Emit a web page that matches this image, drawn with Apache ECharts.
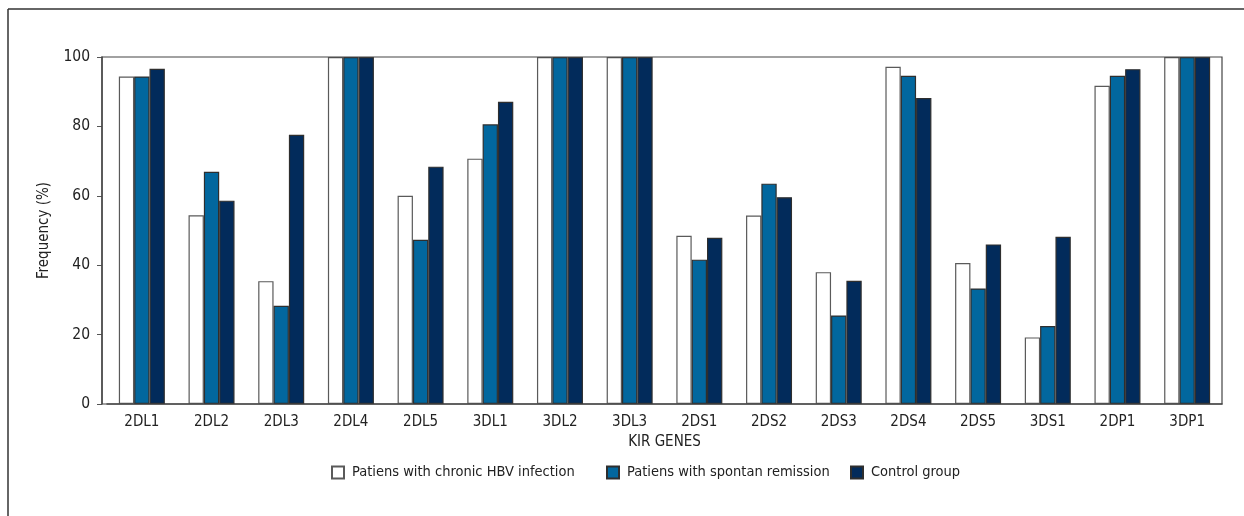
<!DOCTYPE html>
<html>
<head>
<meta charset="utf-8">
<script src="https://cdn.jsdelivr.net/npm/echarts@6/dist/echarts.min.js"></script>
<style>html,body{margin:0;padding:0;background:#fff;}#chart{width:1244px;height:516px;}</style>
</head>
<body>
<div id="chart"></div>
<script>
const categories = ['2DL1','2DL2','2DL3','2DL4','2DL5','3DL1','3DL2','3DL3','2DS1','2DS2','2DS3','2DS4','2DS5','3DS1','2DP1','3DP1'];
const seriesNames = ['Patiens with chronic HBV infection','Patiens with spontan remission','Control group'];
const chronicHBV = [94.4, 54.4, 35.4, 100, 60.0, 70.7, 100, 100, 48.5, 54.3, 38.0, 97.2, 40.6, 19.2, 91.7, 100];
const spontanRemission = [94.4, 66.9, 28.3, 100, 47.3, 80.6, 100, 100, 41.6, 63.5, 25.5, 94.6, 33.3, 22.5, 94.6, 100];
const controlGroup = [96.6, 58.6, 77.6, 100, 68.4, 87.1, 100, 100, 47.9, 59.6, 35.5, 88.2, 46.0, 48.2, 96.5, 100];
const yTicks = [0, 20, 40, 60, 80, 100];

const FONT = "'Liberation Sans Narrow', 'DejaVu Sans Condensed', sans-serif";
const colors = ['#ffffff', '#02679e', '#022b5b'];
const borders = ['#5a5a5a', '#2e2e2e', '#2e2e2e'];
const dataSets = [chronicHBV, spontanRemission, controlGroup];
const legendLefts = [331, 606, 850];

const chart = echarts.init(document.getElementById('chart'), null, {renderer: 'canvas'});
chart.setOption({
  animation: false,
  backgroundColor: '#fff',
  textStyle: {fontFamily: FONT},
  graphic: [
    {type: 'line', shape: {x1: 8, y1: 9, x2: 1244, y2: 9}, style: {stroke: '#333', lineWidth: 1.5}},
    {type: 'line', shape: {x1: 8, y1: 9, x2: 8, y2: 516}, style: {stroke: '#333', lineWidth: 1.5}},
    {type: 'rect', z: 10, shape: {x: 102, y: 57, width: 1120, height: 347}, style: {fill: null, stroke: '#444', lineWidth: 1.2}}
  ],
  grid: {left: 107, right: 22, top: 57, bottom: 112, show: false},
  legend: seriesNames.map((n, i) => ({
    data: [n],
    top: 465,
    left: legendLefts[i],
    padding: 0,
    itemWidth: 12,
    itemHeight: 12,
    itemGap: 0,
    icon: 'rect',
    textStyle: {fontFamily: FONT, fontSize: 14.5, color: '#222', padding: [0, 0, 0, 3]}
  })),
  xAxis: {
    type: 'category',
    data: categories,
    name: 'KIR GENES',
    nameLocation: 'middle',
    nameGap: 31,
    nameTextStyle: {fontFamily: FONT, fontSize: 15, color: '#222'},
    axisLine: {lineStyle: {color: '#555', width: 1.5}},
    axisTick: {show: false},
    axisLabel: {fontFamily: FONT, fontSize: 15, color: '#222', margin: 11},
    splitLine: {show: false}
  },
  yAxis: {
    type: 'value',
    min: 0, max: 100, interval: 20,
    offset: 5,
    name: 'Frequency (%)',
    nameLocation: 'middle',
    nameGap: 50,
    nameTextStyle: {fontFamily: FONT, fontSize: 15, color: '#222'},
    axisLine: {show: true, lineStyle: {color: '#555', width: 1.5}},
    axisTick: {show: true, length: 5, lineStyle: {color: '#555'}},
    axisLabel: {fontFamily: FONT, fontSize: 15.5, color: '#222', margin: 12,
      formatter: v => yTicks.includes(v) ? String(v) : ''},
    splitLine: {show: false}
  },
  series: dataSets.map((d, i) => ({
    name: seriesNames[i],
    type: 'bar',
    data: d,
    barGap: '0%',
    barCategoryGap: '34%',
    itemStyle: {color: colors[i], borderColor: borders[i], borderWidth: 1.2}
  }))
});
</script>
</body>
</html>
